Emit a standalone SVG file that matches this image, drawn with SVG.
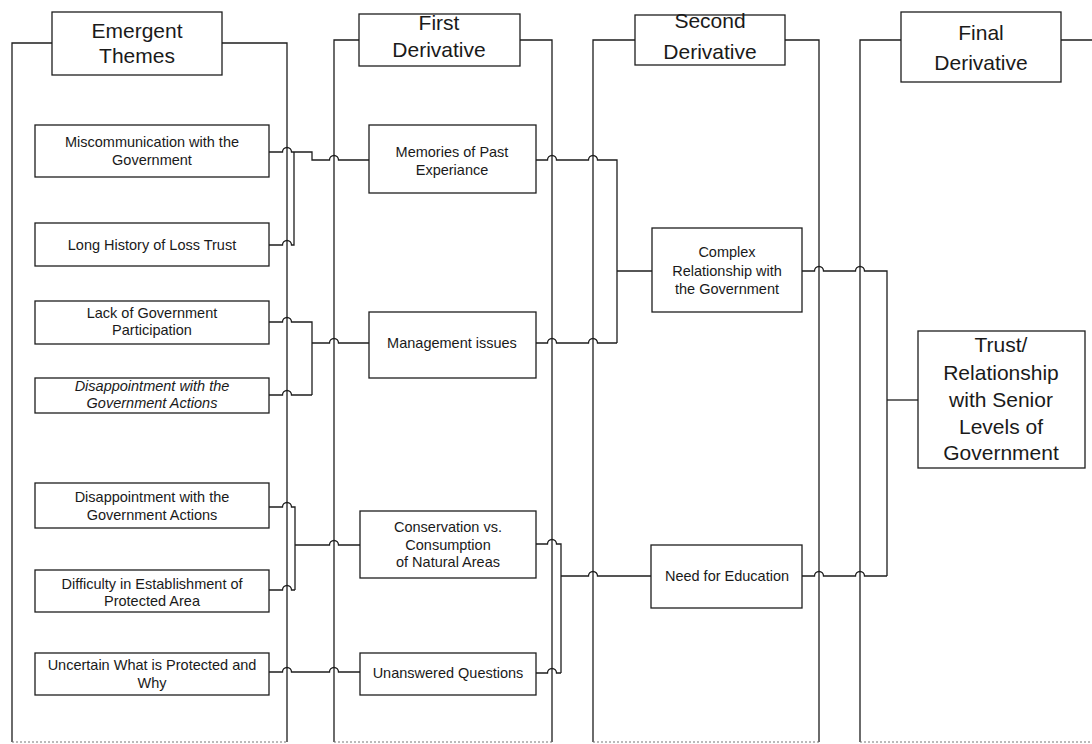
<svg xmlns="http://www.w3.org/2000/svg" width="1092" height="744" viewBox="0 0 1092 744">
<style>
.frame{fill:none;stroke:#1e1e1e;stroke-width:1.3}
.bottom{fill:none;stroke:#777;stroke-width:1.2;stroke-dasharray:2 2}
.hdr{fill:#fff;stroke:#1e1e1e;stroke-width:1.3}
.box{fill:#fff;stroke:#1e1e1e;stroke-width:1.3}
.c{fill:none;stroke:#1e1e1e;stroke-width:1.3}
.t{font-family:"Liberation Sans",Arial,sans-serif;font-size:14.5px;fill:#1a1a1a;text-anchor:middle}
.ti{font-style:italic}
.h{font-family:"Liberation Sans",Arial,sans-serif;font-size:21px;fill:#1a1a1a;text-anchor:middle}
.big{font-family:"Liberation Sans",Arial,sans-serif;font-size:21px;fill:#1a1a1a;text-anchor:middle}
</style>
<rect width="1092" height="744" fill="#fff"/>

<g id="col-emergent">
<path class="frame" d="M12,742 V43 H287 V742"/>
<path class="bottom" d="M12,742 H287"/>
<rect class="hdr" x="52" y="12" width="170" height="63"/>
<text class="h" x="137" y="38">Emergent</text>
<text class="h" x="137" y="63">Themes</text>
</g>
<g id="col-first">
<path class="frame" d="M334,742 V40 H552 V742"/>
<path class="bottom" d="M334,742 H552"/>
<rect class="hdr" x="359" y="14" width="161" height="52"/>
<text class="h" x="439" y="30">First</text>
<text class="h" x="439" y="57">Derivative</text>
</g>
<g id="col-second">
<path class="frame" d="M593,742 V40 H819 V742"/>
<path class="bottom" d="M593,742 H819"/>
<rect class="hdr" x="635" y="15" width="150" height="50"/>
<text class="h" x="710" y="28">Second</text>
<text class="h" x="710" y="59">Derivative</text>
</g>
<g id="col-final">
<path class="frame" d="M860,742 V40 H1100"/>
<path class="bottom" d="M860,742 H1092"/>
<rect class="hdr" x="901" y="12" width="160" height="70"/>
<text class="h" x="981" y="40">Final</text>
<text class="h" x="981" y="70">Derivative</text>
</g>

<g id="connectors">
<path class="c" d="M269,152 H282.5 a4.5,4.5 0 0 1 9,0 H312 V160 H329.5 a4.5,4.5 0 0 1 9,0 H369"/>
<path class="c" d="M269,245 H282.5 a4.5,4.5 0 0 1 9,0 H294 V152"/>
<path class="c" d="M269,322 H282.5 a4.5,4.5 0 0 1 9,0 H312 V395"/>
<path class="c" d="M269,395 H282.5 a4.5,4.5 0 0 1 9,0 H312"/>
<path class="c" d="M312,343 H329.5 a4.5,4.5 0 0 1 9,0 H369"/>
<path class="c" d="M269,507 H282.5 a4.5,4.5 0 0 1 9,0 H295 V590"/>
<path class="c" d="M269,590 H282.5 a4.5,4.5 0 0 1 9,0 H295"/>
<path class="c" d="M295,545 H329.5 a4.5,4.5 0 0 1 9,0 H360"/>
<path class="c" d="M269,672 H282.5 a4.5,4.5 0 0 1 9,0 H329.5 a4.5,4.5 0 0 1 9,0 H360"/>
<path class="c" d="M536,160 H547.5 a4.5,4.5 0 0 1 9,0 H588.5 a4.5,4.5 0 0 1 9,0 H617 V343"/>
<path class="c" d="M536,343 H547.5 a4.5,4.5 0 0 1 9,0 H588.5 a4.5,4.5 0 0 1 9,0 H617"/>
<path class="c" d="M617,271 H652"/>
<path class="c" d="M536,544 H547.5 a4.5,4.5 0 0 1 9,0 H561 V673"/>
<path class="c" d="M536,673 H547.5 a4.5,4.5 0 0 1 9,0 H561"/>
<path class="c" d="M561,576 H588.5 a4.5,4.5 0 0 1 9,0 H651"/>
<path class="c" d="M802,271 H814.5 a4.5,4.5 0 0 1 9,0 H855.5 a4.5,4.5 0 0 1 9,0 H887 V576"/>
<path class="c" d="M802,576 H814.5 a4.5,4.5 0 0 1 9,0 H855.5 a4.5,4.5 0 0 1 9,0 H887"/>
<path class="c" d="M887,400 H918"/>
</g>

<g id="n-miscommunication">
<rect class="box" x="35" y="125" width="234" height="52"/>
<text class="t" x="152" y="147">Miscommunication with the</text>
<text class="t" x="152" y="165">Government</text>
</g>
<g id="n-long-history">
<rect class="box" x="35" y="223" width="234" height="43"/>
<text class="t" x="152" y="250">Long History of Loss Trust</text>
</g>
<g id="n-lack">
<rect class="box" x="35" y="301" width="234" height="43"/>
<text class="t" x="152" y="318">Lack of Government</text>
<text class="t" x="152" y="335">Participation</text>
</g>
<g id="n-disappointment-1">
<rect class="box" x="35" y="378" width="234" height="35"/>
<text class="t ti" x="152" y="391">Disappointment with the</text>
<text class="t ti" x="152" y="408">Government Actions</text>
</g>
<g id="n-disappointment-2">
<rect class="box" x="35" y="483" width="234" height="45"/>
<text class="t" x="152" y="502">Disappointment with the</text>
<text class="t" x="152" y="520">Government Actions</text>
</g>
<g id="n-difficulty">
<rect class="box" x="35" y="570" width="234" height="42"/>
<text class="t" x="152" y="589">Difficulty in Establishment of</text>
<text class="t" x="152" y="606">Protected Area</text>
</g>
<g id="n-uncertain">
<rect class="box" x="35" y="653" width="234" height="42"/>
<text class="t" x="152" y="670">Uncertain What is Protected and</text>
<text class="t" x="152" y="688">Why</text>
</g>

<g id="n-memories">
<rect class="box" x="369" y="125" width="167" height="68"/>
<text class="t" x="452" y="157">Memories of Past</text>
<text class="t" x="452" y="175">Experiance</text>
</g>
<g id="n-management">
<rect class="box" x="369" y="312" width="167" height="66"/>
<text class="t" x="452" y="348">Management issues</text>
</g>
<g id="n-conservation">
<rect class="box" x="360" y="511" width="176" height="67"/>
<text class="t" x="448" y="532">Conservation vs.</text>
<text class="t" x="448" y="550">Consumption</text>
<text class="t" x="448" y="567">of Natural Areas</text>
</g>
<g id="n-unanswered">
<rect class="box" x="360" y="653" width="176" height="42"/>
<text class="t" x="448" y="678">Unanswered Questions</text>
</g>

<g id="n-complex">
<rect class="box" x="652" y="228" width="150" height="84"/>
<text class="t" x="727" y="257">Complex</text>
<text class="t" x="727" y="276">Relationship with</text>
<text class="t" x="727" y="294">the Government</text>
</g>
<g id="n-education">
<rect class="box" x="651" y="545" width="151" height="63"/>
<text class="t" x="727" y="581">Need for Education</text>
</g>

<g id="n-trust">
<rect class="box" x="918" y="331" width="167" height="137"/>
<text class="big" x="1001" y="352">Trust/</text>
<text class="big" x="1001" y="380">Relationship</text>
<text class="big" x="1001" y="407">with Senior</text>
<text class="big" x="1001" y="434">Levels of</text>
<text class="big" x="1001" y="460">Government</text>
</g>
</svg>
